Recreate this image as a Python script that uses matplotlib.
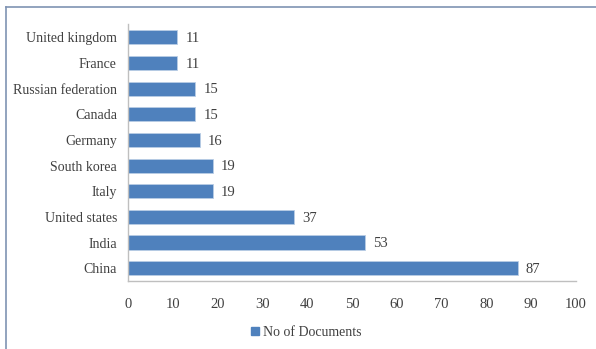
import matplotlib
matplotlib.use("Agg")
import matplotlib.pyplot as plt
from matplotlib.lines import Line2D

countries = ["United kingdom", "France", "Russian federation", "Canada", "Germany",
             "South korea", "Italy", "United states", "India", "China"]
docs = [11, 11, 15, 15, 16, 19, 19, 37, 53, 87]
xticks = [0, 10, 20, 30, 40, 50, 60, 70, 80, 90, 100]
series_name = "No of Documents"

plt.rcParams['font.family'] = ['Liberation Serif', 'DejaVu Serif']
text_color = "#404040"

fig = plt.figure(figsize=(5.96, 3.49), dpi=100)
ax = fig.add_axes([128/596, 1-281/349, (576-128)/596, (281-24.5)/349])

y = list(range(len(countries)))[::-1]
ax.barh(y, docs, height=0.55, color="#4F81BD", edgecolor="#B9CDE5", linewidth=0.6,
        label=series_name)
for yi, v in zip(y, docs):
    ax.text(v + 1.8, yi - 0.05, str(v), va="center", ha="left", fontsize=10.5, color=text_color)

ax.set_yticks(y)
ax.set_yticklabels(countries, fontsize=10, color=text_color)
ax.set_xlim(0, 100)
ax.set_ylim(-0.5, len(countries) - 0.5)
ax.set_xticks(xticks)
ax.set_xticklabels([str(t) for t in xticks], fontsize=10.5, color=text_color)
ax.tick_params(axis="both", length=0, pad=8)
ax.tick_params(axis="x", pad=12)
for s in ["top", "right"]:
    ax.spines[s].set_visible(False)
for s in ["left", "bottom"]:
    ax.spines[s].set_color("#BFBFBF")
    ax.spines[s].set_linewidth(1.0)

handle = Line2D([], [], marker="s", linestyle="none", markersize=6,
                markerfacecolor="#4F81BD", markeredgecolor="#4F81BD")
fig.legend([handle], [series_name], loc="center", bbox_to_anchor=(305/596, 1-332/349),
           frameon=False, fontsize=10, handletextpad=0.1, handlelength=1.0,
           labelcolor=text_color)

# figure border (top and left visible)
border_color = "#7F93B3"
fig.add_artist(Line2D([5.5/596, 1.0], [1-7/349, 1-7/349], transform=fig.transFigure,
                      color=border_color, linewidth=1.2))
fig.add_artist(Line2D([5.5/596, 5.5/596], [0, 1-7/349], transform=fig.transFigure,
                      color=border_color, linewidth=1.2))

fig.savefig("out.png", dpi=100, facecolor="white")
